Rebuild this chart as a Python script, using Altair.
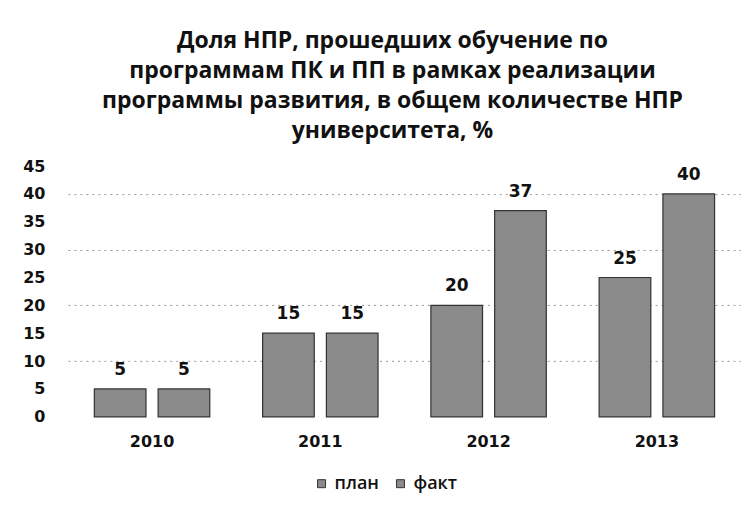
import altair as alt
import pandas as pd

years = ["2010", "2011", "2012", "2013"]
series = ["план", "факт"]
plan = [5, 15, 20, 25]
fact = [5, 15, 37, 40]
title_lines = [
    "Доля НПР, прошедших обучение по",
    "программам ПК и ПП в рамках реализации",
    "программы развития, в общем количестве НПР",
    "университета, %",
]
y_ticks = list(range(0, 50, 5))
grid_values = [10, 20, 30, 40]

rows = []
for i, y in enumerate(years):
    rows.append({"year": y, "series": "план", "value": plan[i]})
    rows.append({"year": y, "series": "факт", "value": fact[i]})
df = pd.DataFrame(rows)

FONT = "Open Sans"
NUMFONT = "DejaVu Sans"
GRAY = "#8a8a8a"

x = alt.X("year:N", sort=years, title=None,
          scale=alt.Scale(paddingInner=0.314, paddingOuter=0.157),
          axis=alt.Axis(labelAngle=0, ticks=False, domain=False, labelPadding=17,
                        labelFontSize=16, labelFont=NUMFONT, labelFontWeight="bold",
                        labelColor="#111"))
xo = alt.XOffset("series:N", sort=series, scale=alt.Scale(paddingInner=0.19))
yscale = alt.Scale(domain=[0, 45], nice=False)

grid = alt.Chart(df).mark_bar(opacity=0).encode(
    x=x,
    xOffset=xo,
    y=alt.Y("value:Q", scale=yscale, title=None,
            axis=alt.Axis(values=grid_values, grid=True, labels=False, ticks=False,
                          domain=False, gridDash=[2, 4], gridColor="#9a9a9a",
                          gridWidth=1, orient="left")),
)

bars = alt.Chart(df).mark_bar(stroke="#333333", strokeWidth=1.2).encode(
    x=x,
    xOffset=xo,
    y=alt.Y("value:Q", scale=yscale, title=None,
            axis=alt.Axis(values=y_ticks, grid=False, ticks=False, domain=False,
                          labelPadding=23, labelFontSize=16, labelFont=NUMFONT,
                          labelFontWeight="bold", labelColor="#111", orient="left")),
    color=alt.Color("series:N", sort=series,
                    scale=alt.Scale(domain=series, range=[GRAY, GRAY]),
                    legend=alt.Legend(title=None, orient="none", direction="horizontal",
                                      legendX=245, legendY=309,
                                      symbolType="square", symbolSize=64,
                                      symbolStrokeColor="#333", symbolStrokeWidth=1,
                                      labelOffset=4,
                                      labelFontSize=18, labelFont=FONT, labelFontWeight=600,
                                      labelColor="#111", columnPadding=12)),
)

labels = alt.Chart(df).mark_text(dy=-19, fontSize=17, font=NUMFONT, fontWeight="bold",
                                 color="#111").encode(
    x=x,
    xOffset=xo,
    y=alt.Y("value:Q", scale=yscale, axis=None),
    text=alt.Text("value:Q"),
)

chart = alt.layer(grid, bars, labels).resolve_axis(y="independent").properties(
    width=674,
    height=251,
    padding={"left": 14, "top": 22, "right": 0, "bottom": 5},
    title=alt.Title(title_lines, fontSize=23, font=FONT, fontWeight="bold",
                    color="#111", lineHeight=30, anchor="middle", offset=15, dx=-12),
).configure_view(stroke=None)

chart.save("out.html", embed_options={"renderer": "svg", "actions": False})
